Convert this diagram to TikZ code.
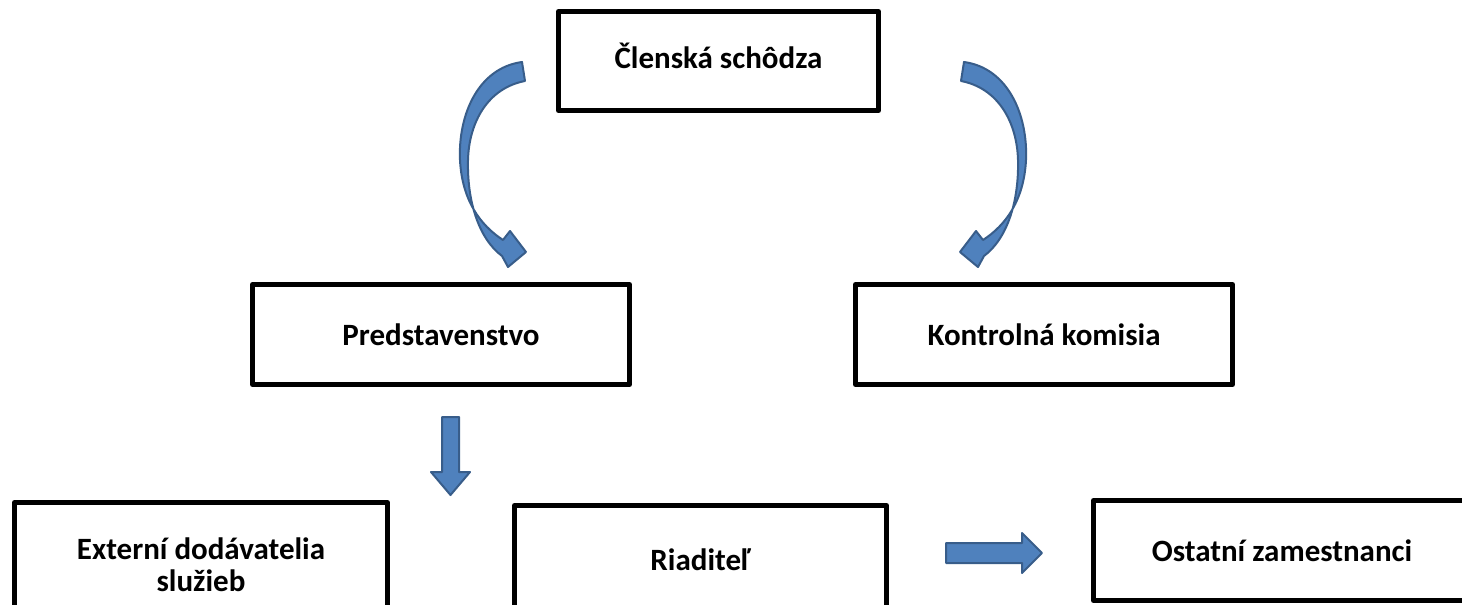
\documentclass[tikz,border=0pt]{standalone}
\usepackage{fontspec}
\setmainfont{Carlito}
\usepackage{tikz}
\usetikzlibrary{calc}
\definecolor{arrowblue}{RGB}{79,129,189}
\definecolor{arrowedge}{RGB}{56,93,138}
\tikzset{
  box/.style={draw, line width=2.5pt, line join=round, align=center, inner sep=0pt,
    font=\bfseries\fontsize{15.5}{16}\selectfont},
  blockarrow/.style={fill=arrowblue, draw=arrowedge, line width=1pt, line join=round}
}

\begin{document}
\begin{tikzpicture}[x=0.5pt, y=-0.5pt]

\useasboundingbox (0,0) rectangle (1462,605);
\clip (0,0) rectangle (1462,605);

% boxes
\node [box, minimum width=160pt, minimum height=49.5pt] (schodza) at (718.5,61) {\raisebox{2.5pt}[\height][\depth]{Členská schôdza}};
\node [box, minimum width=188.5pt, minimum height=50pt] (predst) at (441,334.5) {Predstavenstvo};
\node [box, minimum width=188.5pt, minimum height=50pt] (kontrol) at (1044,334.5) {Kontrolná komisia};
\node [box, minimum width=186.5pt, minimum height=62.5pt] (externi) at (201,565) {Externí dodávatelia\\služieb};
\node [box, minimum width=186pt, minimum height=54.5pt] (riaditel) at (700.5,560) {Riaditeľ};
\node [box, minimum width=188.5pt, minimum height=50pt] (ostatni) at (1282,550.5) {Ostatní zamestnanci};

% curved arrows, the right one mirrored
\foreach \s/\o in {1/0pt, -1/743pt} {
  \begin{scope}[xshift=\o, xscale=\s]
  \draw [blockarrow] (522,62) .. controls (478,68) and (458,115) .. (460,160)
    .. controls (462,200) and (480,225) .. (503,240) -- (510,231) -- (526,252) -- (508,267) -- (502,256)
    .. controls (478,238) and (467,200) .. (468,160) .. controls (469,122) and (488,88) .. (525,81) -- cycle;
  \end{scope}
}

% straight arrows
\coordinate (downtop) at (450.5,417);
\coordinate (downtip) at (450.5,495);
\draw [blockarrow] ($(downtop)+(-8.5,0)$) -- ($(downtop)+(8.5,0)$) -- ($(downtip)+(8.5,-23)$) -- ($(downtip)+(19.5,-23)$)
  -- (downtip) -- ($(downtip)+(-19.5,-23)$) -- ($(downtip)+(-8.5,-23)$) -- cycle;

\coordinate (righttail) at (946,553);
\coordinate (righttip) at (1042,553);
\draw [blockarrow] ($(righttail)+(0,-10)$) -- ($(righttip)+(-20,-10)$) -- ($(righttip)+(-20,-20)$) -- (righttip)
  -- ($(righttip)+(-20,20)$) -- ($(righttip)+(-20,10)$) -- ($(righttail)+(0,10)$) -- cycle;

\end{tikzpicture}
\end{document}
